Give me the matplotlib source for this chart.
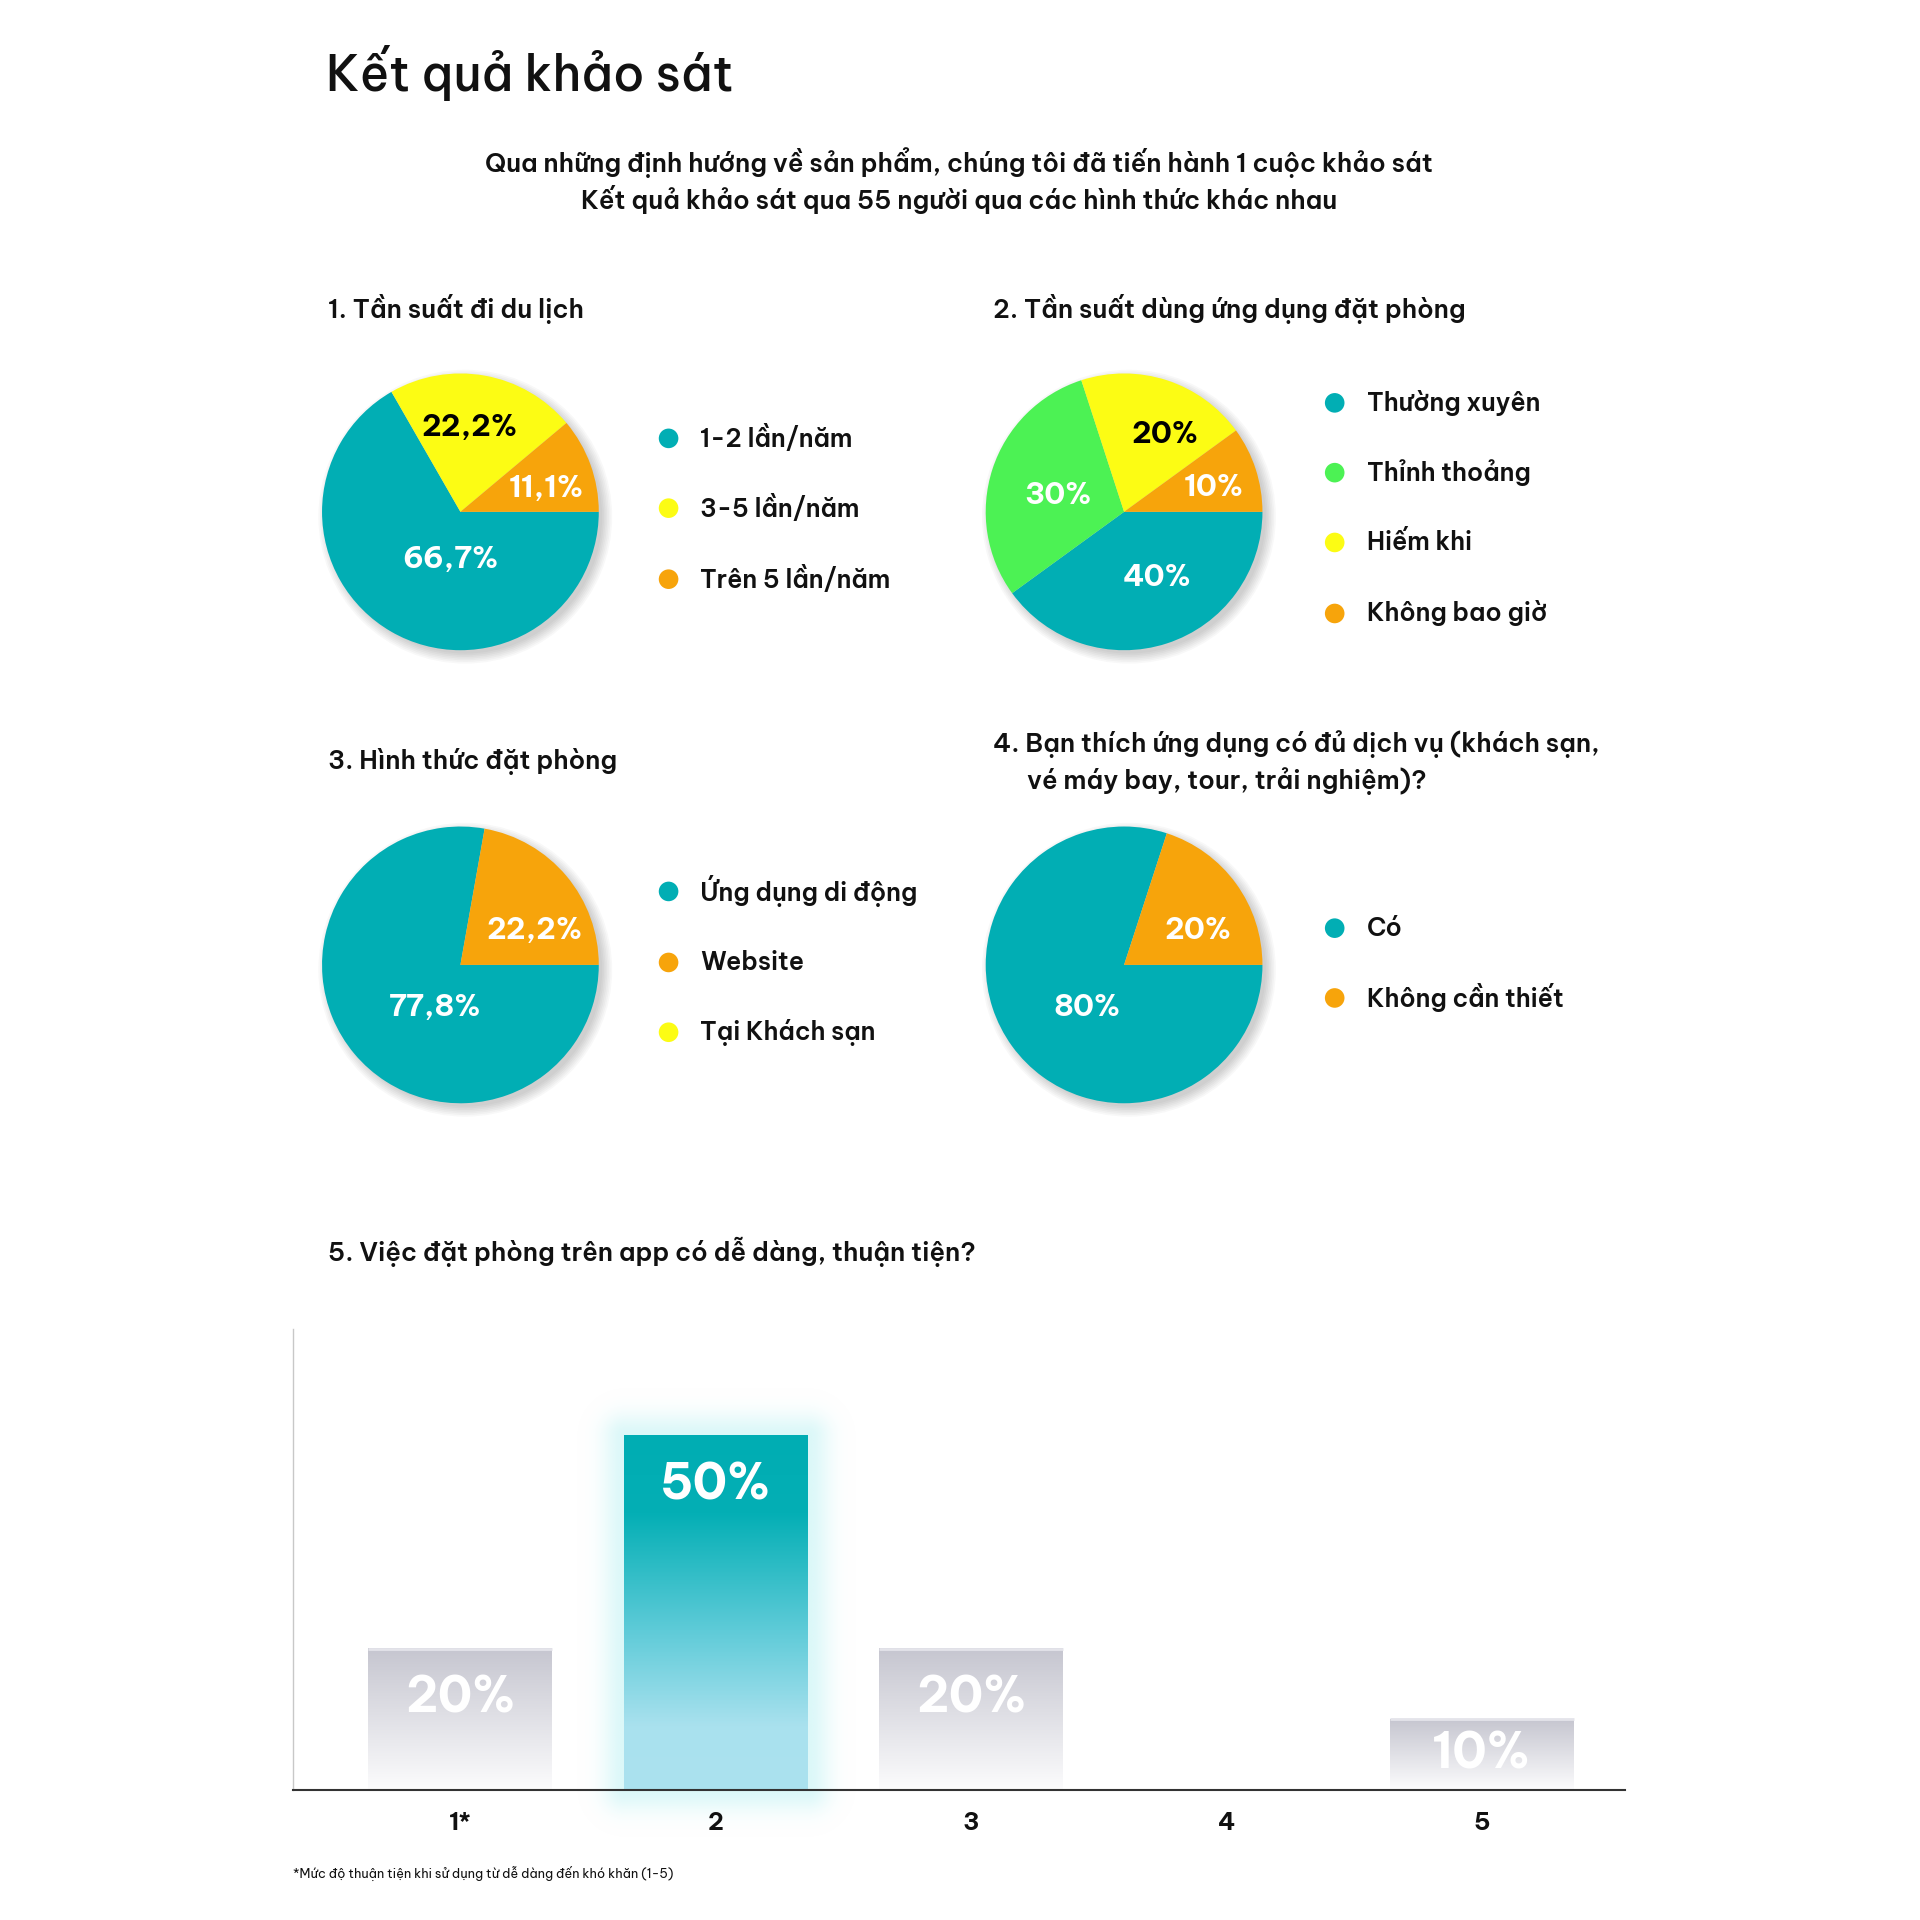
import numpy as np
import matplotlib
matplotlib.use('Agg')
import matplotlib.pyplot as plt
from matplotlib.patches import Circle
from matplotlib.colors import LinearSegmentedColormap, to_rgb

plt.rcParams['font.family'] = ['Be Vietnam Pro', 'DejaVu Sans']

TEAL = '#01aeb4'
YELLOW = '#fcfc14'
ORANGE = '#f7a40b'
GREEN = '#4cf254'

# --- data ---
travel_labels = ['1-2 lần/năm', '3-5 lần/năm', 'Trên 5 lần/năm']
travel_values = [66.7, 22.2, 11.1]

app_labels = ['Thường xuyên', 'Thỉnh thoảng', 'Hiếm khi', 'Không bao giờ']
app_values = [40, 30, 20, 10]

booking_labels = ['Ứng dụng di động', 'Website', 'Tại Khách sạn']
booking_values = [77.8, 22.2, 0]

service_labels = ['Có', 'Không cần thiết']
service_values = [80, 20]

ease_levels = ['1*', '2', '3', '4', '5']
ease_values = [20, 50, 20, 0, 10]

# layout works in the 1568 px space of the reference, mapped to the figure
W = 1568.0
fig = plt.figure(figsize=(19.2, 19.2), dpi=100)
fig.patch.set_facecolor('white')


def fx(x):
    return x / W


def fy(y):
    return 1 - y / W


def pct(v):
    if float(v).is_integer():
        return f'{v:.0f}%'
    return f'{v:.1f}%'.replace('.', ',')


def draw_pie(cx, cy, values, colors, spots, txt_colors):
    # spots: (distance from centre, angle shift from wedge middle) per label
    r = 113
    pad = 1.25
    side = 2 * r * pad / W
    ax = fig.add_axes([fx(cx) - side / 2, fy(cy) - side / 2, side, side])
    for k in range(7):
        ax.add_patch(Circle((0.035, -0.035), 0.99 + 0.012 * k, color='black',
                            alpha=0.026, lw=0, zorder=0))
    wedges, _ = ax.pie(values, colors=colors, startangle=0, counterclock=False,
                       radius=1, wedgeprops=dict(linewidth=0, zorder=2))
    ax.set_xlim(-pad, pad)
    ax.set_ylim(-pad, pad)
    ax.set_aspect('equal')
    ax.axis('off')
    for w, v, (d, shift), c in zip(wedges, values, spots, txt_colors):
        if v == 0:
            continue
        th = np.deg2rad((w.theta1 + w.theta2) / 2 + shift)
        ax.text(d * np.cos(th), d * np.sin(th), pct(v), ha='center', va='center',
                fontsize=21.5, fontweight='bold', color=c, zorder=5)
    return ax


def draw_legend(ov, x, ys, labels, colors):
    for y, lab, c in zip(ys, labels, colors):
        ov.add_patch(Circle((x, y), 8, color=c, lw=0))
        ov.text(x + 26, y, lab, ha='left', va='center', fontsize=18,
                fontweight='semibold', color='#111111')


# overlay for all text and legend dots
ov = fig.add_axes([0, 0, 1, 1])
ov.set_xlim(0, W)
ov.set_ylim(W, 0)
ov.axis('off')
ov.set_zorder(5)

ov.text(266, 60, 'Kết quả khảo sát', ha='left', va='center', fontsize=35,
        fontweight='medium', color='#111111')
ov.text(783, 133, 'Qua những định hướng về sản phẩm, chúng tôi đã tiến hành 1 cuộc khảo sát',
        ha='center', va='center', fontsize=18.4, fontweight='semibold', color='#111111')
ov.text(783, 163, 'Kết quả khảo sát qua 55 người qua các hình thức khác nhau',
        ha='center', va='center', fontsize=18.4, fontweight='semibold', color='#111111')

sec_kw = dict(ha='left', va='center', fontsize=18.4, fontweight='semibold', color='#111111')
ov.text(268, 252, '1. Tần suất đi du lịch', **sec_kw)
ov.text(811, 252, '2. Tần suất dùng ứng dụng đặt phòng', **sec_kw)
ov.text(268, 622, '3. Hình thức đặt phòng', **sec_kw)
ov.text(811, 608, '4. Bạn thích ứng dụng có đủ dịch vụ (khách sạn,', **sec_kw)
ov.text(839, 638, 'vé máy bay, tour, trải nghiệm)?', **sec_kw)
ov.text(268, 1022, '5. Việc đặt phòng trên app có dễ dàng, thuận tiện?', **sec_kw)
ov.text(239, 1530, '*Mức độ thuận tiện khi sử dụng từ dễ dàng đến khó khăn (1-5)',
        ha='left', va='center', fontsize=9.2, color='#111111')

# pies
draw_pie(376, 418, travel_values, [TEAL, YELLOW, ORANGE],
         [(0.35, 18), (0.61, 4), (0.64, -5)], ['white', 'black', 'white'])
draw_legend(ov, 546, [358, 415, 473], travel_labels, [TEAL, YELLOW, ORANGE])

draw_pie(918, 418, app_values, [TEAL, GREEN, YELLOW, ORANGE],
         [(0.53, 9), (0.49, 4), (0.63, -10), (0.67, -3)],
         ['white', 'white', 'black', 'white'])
draw_legend(ov, 1090, [329, 386, 443, 501], app_labels, [TEAL, GREEN, YELLOW, ORANGE])

draw_pie(376, 788, booking_values, [TEAL, ORANGE, YELLOW],
         [(0.36, 19), (0.59, -15), (0.6, 0)], ['white', 'white', 'black'])
draw_legend(ov, 546, [728, 786, 843], booking_labels, [TEAL, ORANGE, YELLOW])

draw_pie(918, 788, service_values, [TEAL, ORANGE],
         [(0.41, 13), (0.59, -11)], ['white', 'white'])
draw_legend(ov, 1090, [758, 815], service_labels, [TEAL, ORANGE])

# bar chart
left, right, top, base = 239, 1327, 1085, 1462
bx = fig.add_axes([fx(left), fy(base), (right - left) / W, (base - top) / W])
xmin, xmax, ymax = -0.657, 4.561, 65.2
bx.set_xlim(xmin, xmax)
bx.set_ylim(0, ymax)
bw = 0.72
hi = int(np.argmax(ease_values))

gray_cmap = LinearSegmentedColormap.from_list(
    'g', [(0, '#c6c6d0'), (0.45, '#dedee4'), (1, '#fcfcfd')])
teal_cmap = LinearSegmentedColormap.from_list(
    't', [(0, '#00adb3'), (0.22, '#04afb5'), (0.55, '#5ecbd8'), (0.82, '#a9e1ee'), (1, '#abe2ef')])
grad = np.linspace(0, 1, 256).reshape(-1, 1)

px_x = (right - left) / (xmax - xmin)
px_y = (base - top) / ymax

for i, v in enumerate(ease_values):
    if v == 0:
        continue
    x0 = i - bw / 2
    cmap = teal_cmap if i == hi else gray_cmap
    bx.imshow(grad, extent=(x0, x0 + bw, 0, v), aspect='auto', cmap=cmap,
              interpolation='bilinear', zorder=3)
    if i != hi:
        bx.plot([x0, x0 + bw], [v, v], color='#e4e4ea', lw=2, zorder=4,
                solid_capstyle='butt')
    ly = v - min(7, v / 2)
    bx.text(i, ly, pct(v), ha='center', va='center', fontsize=35.5,
            fontweight='bold', color='white', zorder=6)

# soft glow around the highlighted bar
v = ease_values[hi]
g = 50
gx0, gx1 = hi - bw / 2 - g / px_x, hi + bw / 2 + g / px_x
gy0, gy1 = -g / px_y, v + g / px_y
nx, ny = 200, 400
xs = np.linspace(gx0, gx1, nx)
ys = np.linspace(gy1, gy0, ny)
X, Y = np.meshgrid(xs, ys)
dx = np.maximum(np.abs(X - hi) - bw / 2, 0) * px_x
dy = np.maximum(np.maximum(Y - v, -Y), 0) * px_y
d = np.hypot(dx, dy)
alpha = np.exp(-(d / 18.0) ** 2) * 0.42
alpha[d == 0] = 0.42
rgba = np.zeros((ny, nx, 4))
rgba[..., :3] = to_rgb('#abeef0')
rgba[..., 3] = alpha
bx.imshow(rgba, extent=(gx0, gx1, gy0, gy1), aspect='auto', zorder=1, clip_on=False,
          interpolation='bilinear')
bx.set_xlim(xmin, xmax)
bx.set_ylim(0, ymax)

for s in ['top', 'right']:
    bx.spines[s].set_visible(False)
bx.spines['left'].set_color('#c8c8c8')
bx.spines['left'].set_linewidth(1)
bx.spines['bottom'].set_color('#333333')
bx.spines['bottom'].set_linewidth(1.5)
bx.spines['bottom'].set_zorder(7)
bx.set_xticks(range(len(ease_levels)))
bx.set_xticklabels(ease_levels, fontsize=17.5, fontweight='bold', color='#111111')
bx.set_yticks([])
bx.tick_params(axis='x', length=0, pad=16)
bx.set_facecolor('none')

fig.savefig('out.png', dpi=100, facecolor='white')
